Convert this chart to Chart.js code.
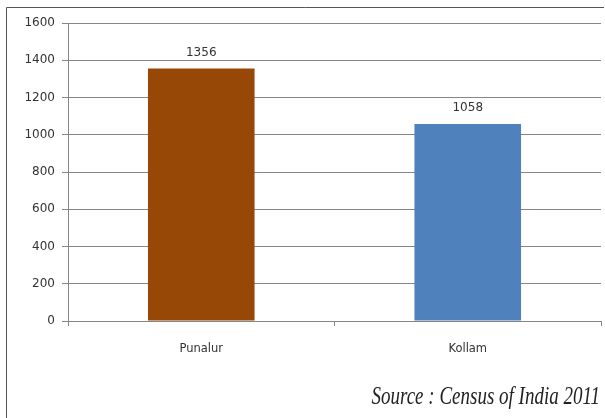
<!DOCTYPE html>
<html>
<head>
<meta charset="utf-8">
<script src="https://cdn.jsdelivr.net/npm/chart.js@4.4.1/dist/chart.umd.min.js"></script>
<style>
    html, body { margin: 0; padding: 0; background: #fff; }
    #wrap { width: 605px; height: 418px; position: relative; }
</style>
</head>
<body>
<div id="wrap"><canvas id="chart" width="605" height="418"></canvas></div>
<script>
const towns = ['Punalur', 'Kollam'];
const density = [1356, 1058];
const barColors = ['#974706', '#4f81bd'];
const sourceNote = 'Source : Census of India 2011';

const AXIS_COLOR = '#868686';
const TEXT_COLOR = '#333';

const frameAndNotes = {
    id: 'frameAndNotes',
    afterDatasetsDraw(chart) {
        const { ctx } = chart;
        const meta = chart.getDatasetMeta(0);
        ctx.save();
        ctx.font = '12px "DejaVu Sans"';
        ctx.fillStyle = TEXT_COLOR;
        ctx.textAlign = 'center';
        ctx.textBaseline = 'bottom';
        meta.data.forEach((bar, i) => {
            ctx.fillText(String(chart.data.datasets[0].data[i]), bar.x, bar.y - 10);
        });
        ctx.restore();
    },
    afterDraw(chart) {
        const { ctx } = chart;
        ctx.save();
        // outer frame
        ctx.strokeStyle = '#555';
        ctx.lineWidth = 1;
        ctx.beginPath();
        ctx.moveTo(6.5, 420);
        ctx.lineTo(6.5, 7.5);
        ctx.lineTo(604, 7.5);
        ctx.stroke();

        // source note, condensed italic serif
        ctx.fillStyle = '#222';
        ctx.font = 'italic 25px "Liberation Serif"';
        ctx.textBaseline = 'alphabetic';
        ctx.textAlign = 'right';
        ctx.translate(600, 404);
        ctx.scale(0.76, 1);
        ctx.fillText(sourceNote, 0, 0);
        ctx.restore();
    }
};

new Chart(document.getElementById('chart'), {
    type: 'bar',
    data: {
        labels: towns,
        datasets: [{
            data: density,
            backgroundColor: barColors,
            borderWidth: 0,
            categoryPercentage: 0.4,
            barPercentage: 1,
        }]
    },
    options: {
        responsive: false,
        animation: false,
        devicePixelRatio: 1,
        layout: { padding: { left: 6, right: 4, top: 23, bottom: 0 } },
        plugins: { legend: { display: false }, tooltip: { enabled: false } },
        scales: {
            x: {
                grid: {
                    offset: true,
                    drawOnChartArea: false,
                    color: AXIS_COLOR,
                    tickLength: 5,
                },
                border: { color: AXIS_COLOR },
                ticks: {
                    color: TEXT_COLOR,
                    font: { family: 'DejaVu Sans', size: 11.5 },
                    padding: 16,
                },
                afterFit(scale) { scale.height = 97; },
            },
            y: {
                min: 0,
                max: 1600,
                grid: { color: AXIS_COLOR, tickLength: 6 },
                border: { color: AXIS_COLOR },
                ticks: {
                    stepSize: 200,
                    color: TEXT_COLOR,
                    font: { family: 'DejaVu Sans', size: 12 },
                    padding: 7,
                    callback: (v) => String(v),
                },
                afterFit(scale) { scale.width = 62; },
            }
        }
    },
    plugins: [frameAndNotes],
});
</script>
</body>
</html>
